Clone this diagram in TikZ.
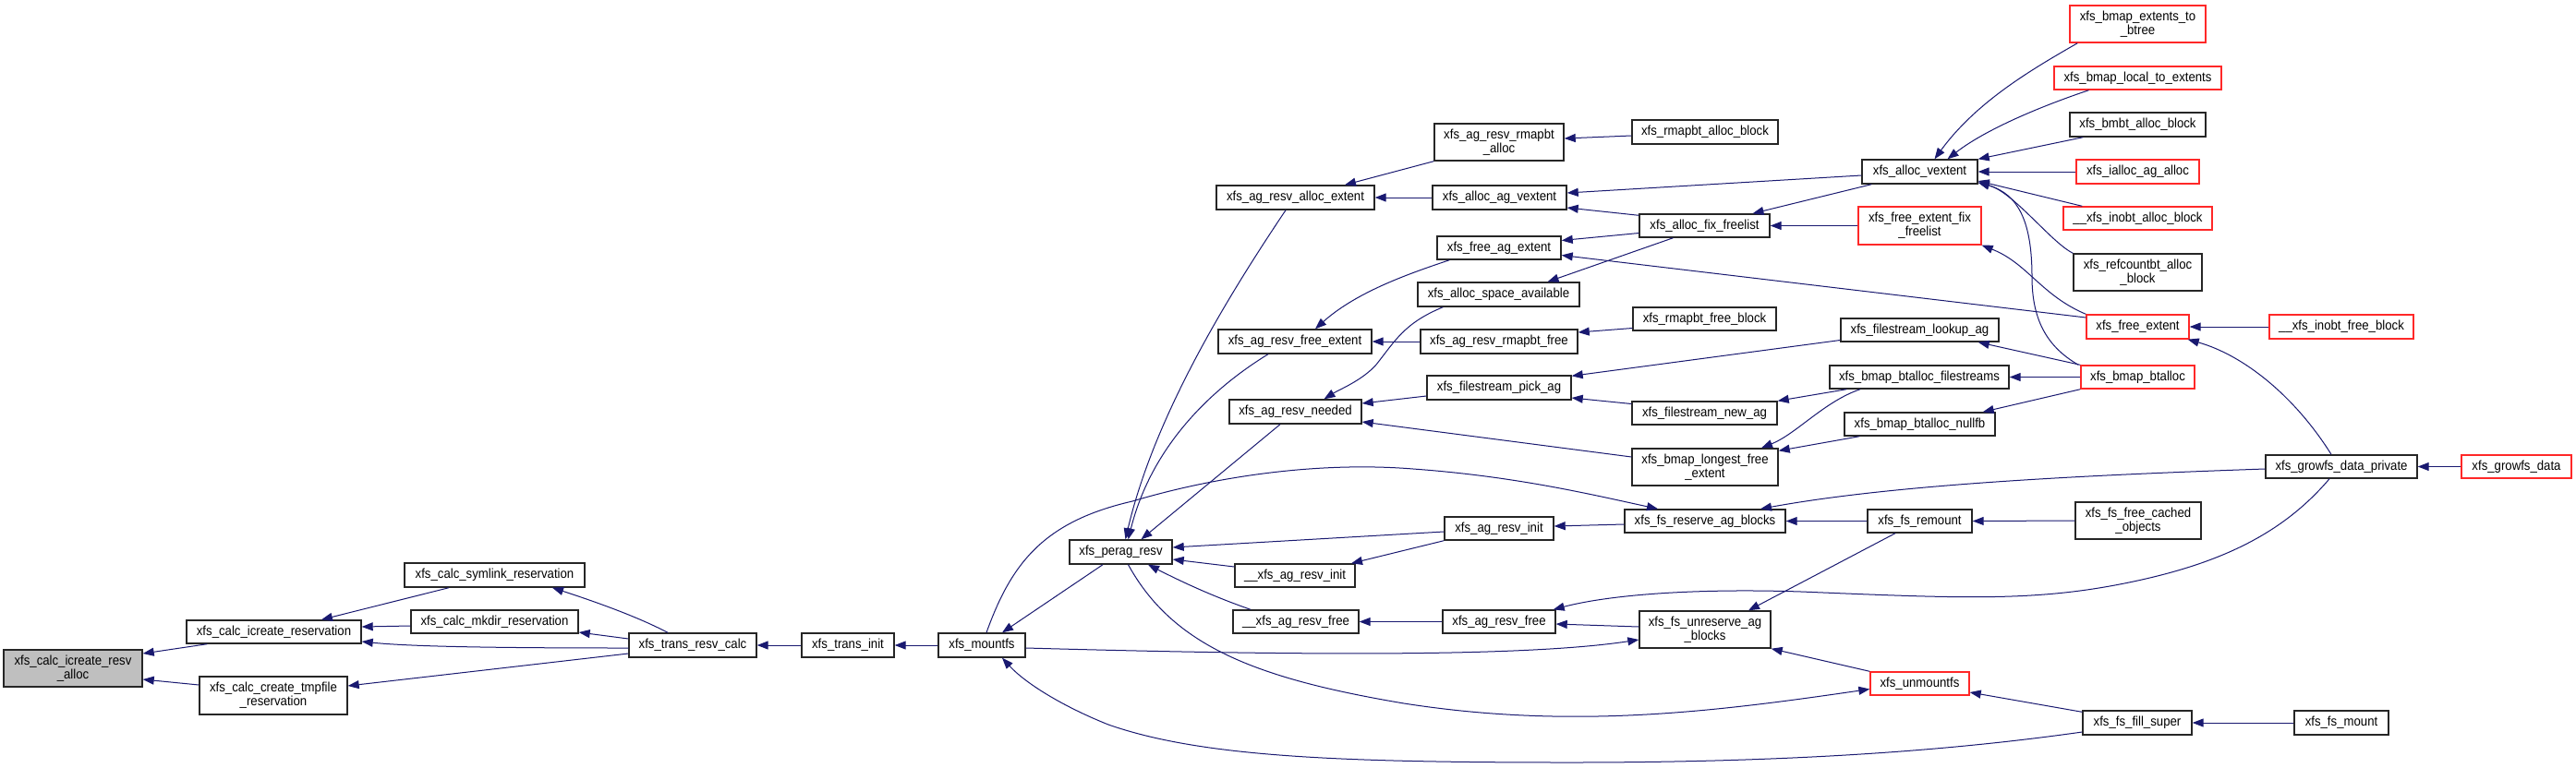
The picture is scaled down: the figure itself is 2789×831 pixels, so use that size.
\documentclass[tikz,border=0pt]{standalone}
\usepackage{fontspec}
\newfontfamily\dxfont{Liberation Sans}[FakeStretch=0.91]
\usetikzlibrary{arrows.meta}
\definecolor{mb}{RGB}{25,25,112}
\definecolor{rd}{RGB}{255,40,40}
\definecolor{gf}{RGB}{191,191,191}
\tikzset{
  nb/.style={draw=black!85, line width=1.4pt, fill=white, inner sep=0pt, align=center,
    font=\dxfont\fontsize{14.5pt}{15pt}\selectfont},
  rb/.style={nb, draw=rd},
  gb/.style={nb, fill=gf},
  cg/.style={draw=mb, line width=1pt, -{Triangle[length=12pt,width=9pt]}, fill=none},
}
\begin{document}
\begin{tikzpicture}[x=1pt,y=-1pt]
\path[fill=white] (0,0) rectangle (2789,831);
\useasboundingbox (0,0) rectangle (2789,831);
% column 0
\node[gb, minimum width=150pt, minimum height=40pt] (root) at (79,724) {xfs\_calc\_icreate\_resv\\\_alloc};
% column 1
\node[nb, minimum width=189pt, minimum height=25pt] (icres) at (296.5,684.5) {xfs\_calc\_icreate\_reservation};
\node[nb, minimum width=160pt, minimum height=41pt] (tmpfile) at (296,753.5) {xfs\_calc\_create\_tmpfile\\\_reservation};
% column 2
\node[nb, minimum width=195pt, minimum height=26pt] (symlink) at (535.5,623) {xfs\_calc\_symlink\_reservation};
\node[nb, minimum width=181pt, minimum height=25pt] (mkdir) at (535.5,673.5) {xfs\_calc\_mkdir\_reservation};
% chain
\node[nb, minimum width=138pt, minimum height=26pt] (transresv) at (750,699) {xfs\_trans\_resv\_calc};
\node[nb, minimum width=100pt, minimum height=26pt] (transinit) at (918,699) {xfs\_trans\_init};
\node[nb, minimum width=94pt, minimum height=26pt] (mountfs) at (1063,699) {xfs\_mountfs};
\node[nb, minimum width=111pt, minimum height=26pt] (perag) at (1213.5,598) {xfs\_perag\_resv};
% column ~1402
\node[nb, minimum width=171pt, minimum height=26pt] (agalloc) at (1402.5,214) {xfs\_ag\_resv\_alloc\_extent};
\node[nb, minimum width=166pt, minimum height=26pt] (agfreeext) at (1402,370) {xfs\_ag\_resv\_free\_extent};
\node[nb, minimum width=143pt, minimum height=26pt] (agneeded) at (1402.5,446) {xfs\_ag\_resv\_needed};
\node[nb, minimum width=130pt, minimum height=25pt] (uagresvinit) at (1402,623.5) {\_\_xfs\_ag\_resv\_init};
\node[nb, minimum width=136pt, minimum height=25pt] (uagresvfree) at (1403,673.5) {\_\_xfs\_ag\_resv\_free};
% column ~1623
\node[nb, minimum width=140pt, minimum height=40pt] (rmapalloc) at (1623,154) {xfs\_ag\_resv\_rmapbt\\\_alloc};
\node[nb, minimum width=145pt, minimum height=26pt] (allocagv) at (1623.5,214) {xfs\_alloc\_ag\_vextent};
\node[nb, minimum width=134pt, minimum height=25pt] (freeag) at (1623,268.5) {xfs\_free\_ag\_extent};
\node[nb, minimum width=175pt, minimum height=26pt] (spaceavail) at (1622.5,319) {xfs\_alloc\_space\_available};
\node[nb, minimum width=170pt, minimum height=26pt] (rmapfree) at (1623,370) {xfs\_ag\_resv\_rmapbt\_free};
\node[nb, minimum width=156pt, minimum height=26pt] (pickag) at (1623,420) {xfs\_filestream\_pick\_ag};
\node[nb, minimum width=118pt, minimum height=25pt] (agresvinit) at (1623,572.5) {xfs\_ag\_resv\_init};
\node[nb, minimum width=122pt, minimum height=25pt] (agresvfree) at (1623,673.5) {xfs\_ag\_resv\_free};
% column ~1846
\node[nb, minimum width=158pt, minimum height=26pt] (rmapbtallocblock) at (1846,143) {xfs\_rmapbt\_alloc\_block};
\node[nb, minimum width=141pt, minimum height=25pt] (fixfree) at (1845.5,244.5) {xfs\_alloc\_fix\_freelist};
\node[nb, minimum width=155pt, minimum height=25pt] (rmapbtfreeblock) at (1845.5,345.5) {xfs\_rmapbt\_free\_block};
\node[nb, minimum width=157pt, minimum height=25pt] (newag) at (1845.5,447.5) {xfs\_filestream\_new\_ag};
\node[nb, minimum width=158pt, minimum height=40pt] (longest) at (1846,506) {xfs\_bmap\_longest\_free\\\_extent};
\node[nb, minimum width=174pt, minimum height=25pt] (reserve) at (1846,564.5) {xfs\_fs\_reserve\_ag\_blocks};
\node[nb, minimum width=142pt, minimum height=40pt] (unreserve) at (1846,682) {xfs\_fs\_unreserve\_ag\\\_blocks};
% column ~2078
\node[nb, minimum width=125pt, minimum height=26pt] (allocvext) at (2078.5,186) {xfs\_alloc\_vextent};
\node[rb, minimum width=133pt, minimum height=41pt] (freefix) at (2078.5,244.5) {xfs\_free\_extent\_fix\\\_freelist};
\node[nb, minimum width=171pt, minimum height=25pt] (lookupag) at (2078.5,357.5) {xfs\_filestream\_lookup\_ag};
\node[nb, minimum width=194pt, minimum height=25pt] (btfs) at (2078,408.5) {xfs\_bmap\_btalloc\_filestreams};
\node[nb, minimum width=163pt, minimum height=25pt] (nullfb) at (2078.5,459.5) {xfs\_bmap\_btalloc\_nullfb};
\node[nb, minimum width=113pt, minimum height=25pt] (remount) at (2078.5,564.5) {xfs\_fs\_remount};
\node[rb, minimum width=107pt, minimum height=25pt] (unmountfs) at (2078.5,740.5) {xfs\_unmountfs};
% column ~2314
\node[rb, minimum width=147pt, minimum height=40pt] (ext2btree) at (2314.5,26) {xfs\_bmap\_extents\_to\\\_btree};
\node[rb, minimum width=181pt, minimum height=25pt] (local2ext) at (2314.5,84.5) {xfs\_bmap\_local\_to\_extents};
\node[nb, minimum width=147pt, minimum height=26pt] (bmbt) at (2314.5,135) {xfs\_bmbt\_alloc\_block};
\node[rb, minimum width=133pt, minimum height=26pt] (ialloc) at (2314.5,186) {xfs\_ialloc\_ag\_alloc};
\node[rb, minimum width=161pt, minimum height=25pt] (inobtalloc) at (2314.5,236.5) {\_\_xfs\_inobt\_alloc\_block};
\node[nb, minimum width=139pt, minimum height=40pt] (refcount) at (2314.5,295) {xfs\_refcountbt\_alloc\\\_block};
\node[rb, minimum width=111pt, minimum height=26pt] (freeext) at (2314.5,354) {xfs\_free\_extent};
\node[rb, minimum width=123pt, minimum height=25pt] (btalloc) at (2314.5,408.5) {xfs\_bmap\_btalloc};
\node[nb, minimum width=136pt, minimum height=40pt] (freecached) at (2315,564) {xfs\_fs\_free\_cached\\\_objects};
\node[nb, minimum width=118pt, minimum height=26pt] (fillsuper) at (2314,783) {xfs\_fs\_fill\_super};
% column ~2535
\node[rb, minimum width=156pt, minimum height=26pt] (inobtfree) at (2535,354) {\_\_xfs\_inobt\_free\_block};
\node[nb, minimum width=164pt, minimum height=25pt] (growpriv) at (2535,505.5) {xfs\_growfs\_data\_private};
\node[nb, minimum width=102pt, minimum height=26pt] (fsmount) at (2535,783) {xfs\_fs\_mount};
\node[rb, minimum width=119pt, minimum height=25pt] (growdata) at (2724.5,505.5) {xfs\_growfs\_data};
% edges
\draw[cg] ([xshift=23pt]icres.south west) -- ([yshift=16pt]root.east);
\draw[cg] ([yshift=11.5pt]tmpfile.west) -- ([yshift=-12pt]root.east);
\draw[cg] ([xshift=-49.5pt]symlink.south) -- ([xshift=51.5pt]icres.north);
\draw[cg] ([yshift=-4.5pt]mkdir.west) -- ([yshift=5.5pt]icres.east);
\draw[cg] ([yshift=-3pt]transresv.west) .. controls (520,702) and (440,700) .. ([yshift=-10.5pt]icres.east);
\draw[cg] ([xshift=-27pt]transresv.north) .. controls (690,668) and (645,652) .. ([xshift=62.5pt]symlink.south);
\draw[cg] ([yshift=7pt]transresv.west) -- ([yshift=-11.5pt]mkdir.east);
\draw[cg] ([yshift=-9pt]transresv.west) -- ([yshift=10.5pt]tmpfile.east);
\draw[cg] (transinit.west) -- (transresv.east);
\draw[cg] (mountfs.west) -- (transinit.east);
\draw[cg] ([xshift=-19.5pt]perag.south) -- ([xshift=22pt]mountfs.north);
\draw[cg] ([xshift=5pt]mountfs.north) .. controls (1095,610) and (1130,565) .. (1226,543) .. controls (1320,515) and (1430,500) .. (1530,508) .. controls (1640,516) and (1720,535) .. ([xshift=-51pt]reserve.north);
\draw[cg] ([yshift=-10pt]fillsuper.west) .. controls (2120,812) and (1950,826) .. (1700,826) .. controls (1450,826) and (1300,820) .. (1200,785) .. controls (1150,765) and (1110,740) .. ([xshift=22pt]mountfs.south);
\draw[cg] ([xshift=-10.5pt]agalloc.south) .. controls (1330,320) and (1250,450) .. ([xshift=5pt]perag.north);
\draw[cg] ([xshift=-29pt]agfreeext.south) .. controls (1330,410) and (1250,470) .. ([xshift=8pt]perag.north);
\draw[cg] ([xshift=-16.5pt]agneeded.south) -- ([xshift=22pt]perag.north);
\draw[cg] ([yshift=-3.5pt]agresvinit.west) -- ([yshift=5pt]perag.east);
\draw[cg] ([yshift=9.5pt]uagresvinit.west) -- ([yshift=-8pt]perag.east);
\draw[cg] ([xshift=-49pt]uagresvfree.north) .. controls (1310,645) and (1275,628) .. ([xshift=29.5pt]perag.south);
\draw[cg] ([xshift=8pt]perag.south) .. controls (1270,700) and (1360,735) .. (1520,762) .. controls (1700,790) and (1850,772) .. ([yshift=-6pt]unmountfs.west);
\draw[cg] ([yshift=-3pt]mountfs.east) .. controls (1400,710) and (1650,712) .. ([yshift=-11pt]unreserve.west);
\draw[cg] ([xshift=-26.5pt]remount.south) -- ([xshift=47pt]unreserve.north);
\draw[cg] ([xshift=-13pt]growpriv.south) .. controls (2470,580) and (2400,612) .. (2300,632) .. controls (2200,652) and (2120,648) .. (1950,641) .. controls (1830,637) and (1740,645) .. ([xshift=-3pt]agresvfree.north east);
\draw[cg] ([yshift=3pt]unreserve.west) -- ([yshift=-2.5pt]agresvfree.east);
\draw[cg] (agresvfree.west) -- (uagresvfree.east);
\draw[cg] (unmountfs.north west) -- (unreserve.south east);
\draw[cg] ([yshift=-3.5pt]reserve.west) -- ([yshift=2.5pt]agresvinit.east);
\draw[cg] (agresvinit.south west) -- ([xshift=61pt]uagresvinit.north);
\draw[cg] (remount.west) -- (reserve.east);
\draw[cg] ([yshift=-2.5pt]growpriv.west) .. controls (2250,515) and (2050,525) .. ([xshift=60pt]reserve.north);
\draw[cg] ([yshift=-2pt]fillsuper.north west) -- ([yshift=-9.5pt]unmountfs.east);
\draw[cg] (fsmount.west) -- (fillsuper.east);
\draw[cg] (freecached.west) -- (remount.east);
\draw[cg] (growdata.west) -- (growpriv.east);
\draw[cg] ([xshift=-11pt]growpriv.north) .. controls (2485,430) and (2430,385) .. ([xshift=-2pt]freeext.south east);
\draw[cg] (inobtfree.west) -- (freeext.east);
\draw[cg] (btalloc.south west) -- ([xshift=-14pt]nullfb.north east);
\draw[cg] (btalloc.west) -- (btfs.east);
\draw[cg] (btalloc.north west) -- ([xshift=-23pt]lookupag.south east);
\draw[cg] ([xshift=-2pt]btalloc.north west) .. controls (2215,375) and (2200,345) .. (2200,300) .. controls (2200,240) and (2185,210) .. ([yshift=2pt]allocvext.south east);
\draw[cg] (refcount.north west) .. controls (2220,262) and (2180,208) .. ([yshift=2pt]allocvext.south east);
\draw[cg] ([xshift=21pt]inobtalloc.north west) -- ([yshift=-10pt]allocvext.east);
\draw[cg] (ialloc.west) -- (allocvext.east);
\draw[cg] ([xshift=15pt]bmbt.south west) -- (allocvext.north east);
\draw[cg] ([xshift=-53pt]local2ext.south) .. controls (2210,115) and (2150,140) .. ([xshift=30pt]allocvext.north);
\draw[cg] ([xshift=9pt]ext2btree.south west) .. controls (2200,75) and (2140,110) .. ([xshift=16pt]allocvext.north);
\draw[cg] (freeext.north west) .. controls (2210,320) and (2195,285) .. (freefix.south east);
\draw[cg] ([yshift=10pt]freeext.west) -- ([yshift=-8pt]freeag.east);
\draw[cg] (rmapalloc.south west) -- ([xshift=53.5pt]agalloc.north);
\draw[cg] ([yshift=-4pt]rmapbtallocblock.west) -- ([yshift=4pt]rmapalloc.east);
\draw[cg] (allocagv.west) -- (agalloc.east);
\draw[cg] ([yshift=-4pt]allocvext.west) -- ([yshift=5pt]allocagv.east);
\draw[cg] ([xshift=11pt]allocvext.south west) -- ([xshift=52pt]fixfree.north);
\draw[cg] ([yshift=-2pt]fixfree.north west) -- ([yshift=-11pt]allocagv.east);
\draw[cg] (freefix.west) -- (fixfree.east);
\draw[cg] ([yshift=-8pt]fixfree.west) -- ([yshift=8pt]freeag.east);
\draw[cg] ([xshift=-34pt]fixfree.south) -- ([xshift=53pt]spaceavail.north);
\draw[cg] ([xshift=14pt]freeag.south west) .. controls (1530,295) and (1470,315) .. ([xshift=22pt]agfreeext.north);
\draw[cg] ([xshift=28pt]spaceavail.south west) .. controls (1520,350) and (1510,370) .. (1490,395) .. controls (1475,412) and (1450,422) .. ([xshift=31pt]agneeded.north);
\draw[cg] (rmapfree.west) -- (agfreeext.east);
\draw[cg] ([yshift=-10pt]rmapbtfreeblock.west) -- ([yshift=10pt]rmapfree.east);
\draw[cg] ([yshift=-11pt]lookupag.west) -- ([yshift=-1pt]pickag.north east);
\draw[cg] ([yshift=-9pt]pickag.west) -- ([yshift=9pt]agneeded.east);
\draw[cg] ([yshift=10pt]newag.west) -- ([yshift=-11pt]pickag.east);
\draw[cg] ([xshift=19pt]btfs.south west) -- (newag.north east);
\draw[cg] ([xshift=-64pt]btfs.south) .. controls (1975,435) and (1945,470) .. ([xshift=61pt]longest.north);
\draw[cg] ([xshift=17pt]nullfb.south west) -- ([yshift=-3pt]longest.north east);
\draw[cg] ([yshift=11pt]longest.west) -- ([yshift=-11pt]agneeded.east);
\end{tikzpicture}
\end{document}
